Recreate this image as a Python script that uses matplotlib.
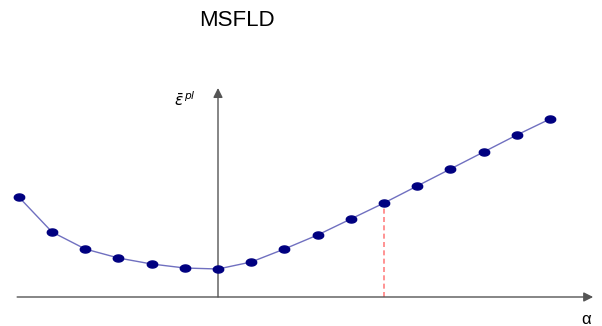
import matplotlib.pyplot as plt
import numpy as np
from matplotlib.path import Path

plt.rcParams['font.family'] = ['Liberation Sans', 'DejaVu Sans']

# alpha positions (relative units) and plastic strain values
alpha = np.arange(-6, 11)
eps_pl = [100, 65, 48, 39, 33, 29, 28, 35, 48, 62, 78, 94, 111, 128, 145, 162, 178]
alpha_mark = 5

fig = plt.figure(figsize=(6.02, 3.26), dpi=100)
ax = fig.add_axes([0, 0, 1, 1])
ax.set_xlim(-218 / 33.2, (602 - 218) / 33.2)
ax.set_ylim(-29, 297)
ax.axis('off')

# axes with arrows
ax.annotate('', xy=(11.3, 0), xytext=(-6.05, 0),
            arrowprops=dict(arrowstyle='-|>', color='#555555', lw=1.0,
                            mutation_scale=14, shrinkA=0, shrinkB=0))
ax.annotate('', xy=(0, 209), xytext=(0, 0),
            arrowprops=dict(arrowstyle='-|>', color='#555555', lw=1.0,
                            mutation_scale=14, shrinkA=0, shrinkB=0))

# slightly wide elliptical marker like the original
t = np.linspace(0, 2 * np.pi, 40)
ellipse = Path(np.column_stack([np.cos(t), 0.68 * np.sin(t)]))

ax.plot(alpha, eps_pl, color='#7070c0', lw=1.0, zorder=2)
ax.plot(alpha, eps_pl, ls='none', marker=ellipse, color='#000080', ms=7.5, zorder=3)

i = list(alpha).index(alpha_mark)
ax.plot([alpha_mark, alpha_mark], [0, eps_pl[i]], color='#ff8080', lw=1.2,
        ls=(0, (3, 2)), zorder=1)

ax.text(-0.68, 197, r'$\bar{\varepsilon}^{\,pl}$', fontsize=11, ha='right', va='center')
ax.text(11.08, -23, 'α', fontsize=12, ha='center', va='center')
fig.text(0.394, 0.937, 'MSFLD', fontsize=16, ha='center', va='center')

fig.savefig('out.png', dpi=100)
